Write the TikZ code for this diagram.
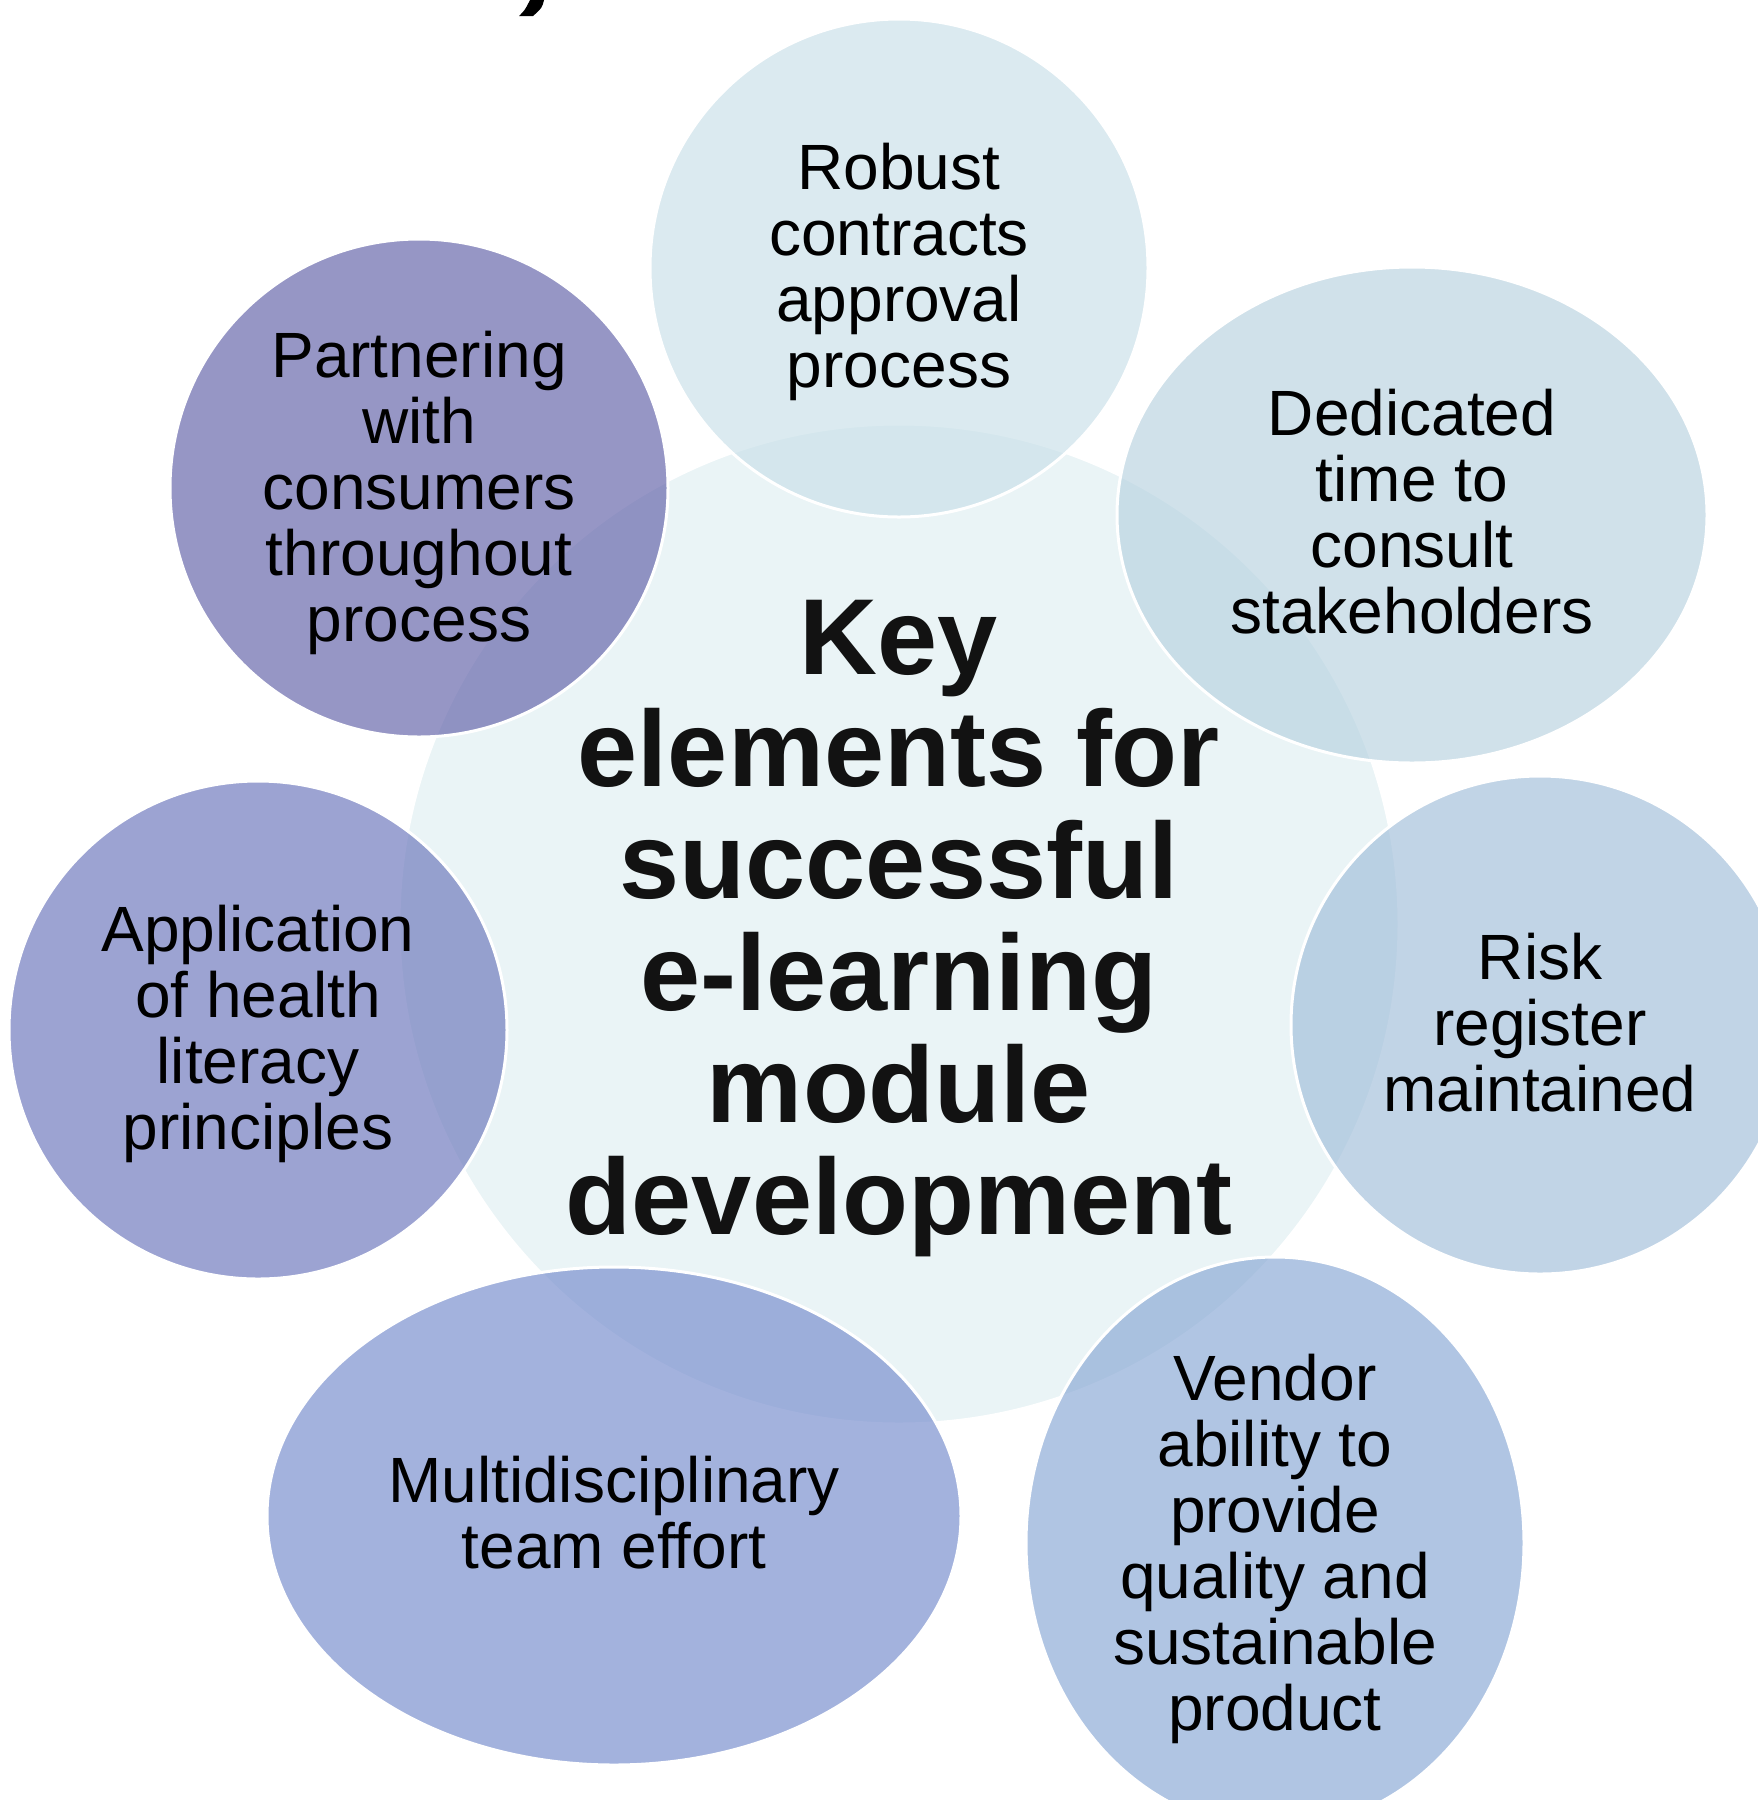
\documentclass[tikz,border=0pt]{standalone}
\usepackage{fontspec}
\setmainfont{Liberation Sans}
\usetikzlibrary{shapes.geometric}
\definecolor{cCenter}{RGB}{234,244,246}
\definecolor{cRobust}{RGB}{201,224,233}
\definecolor{cDedic}{RGB}{183,210,224}
\definecolor{cRisk}{RGB}{160,189,217}
\definecolor{cVendor}{RGB}{135,166,212}
\definecolor{cMulti}{RGB}{115,137,204}
\definecolor{cAppl}{RGB}{104,115,186}
\definecolor{cPartner}{RGB}{95,94,167}
\begin{document}
\begin{tikzpicture}[x=1pt,y=-1pt,
  bubble/.style={ellipse, draw=white, line width=3pt, fill opacity=0.65, draw opacity=1, inner sep=0pt, outer sep=0pt},
  otext/.style={align=center, font=\fontsize{64}{66}\selectfont, text=black, inner sep=0pt},
  ctext/.style={align=center, font=\fontsize{108}{112}\selectfont\bfseries, text=black!93, inner sep=0pt}]
\useasboundingbox (0,0) rectangle (1758,1800);
\fill[white] (0,0) rectangle (1758,1800);
\begin{scope}
\clip (0,0) rectangle (1758,1800);
% fragment of the cut-off title
\fill[black] (530,0) -- (544,0) .. controls (542,8) .. (533,16) -- (519,16) .. controls (525,10) .. (530,0) -- cycle;
% central circle
\node[circle, fill=cCenter, draw=white, line width=3pt, minimum size=1000pt, inner sep=0pt] (center) at (899,924) {};
% outer bubbles
\node[bubble, fill=cRobust, minimum width=498pt, minimum height=498pt] (robust) at (899,268) {};
\node[bubble, fill=cDedic, minimum width=590pt, minimum height=496pt] (dedic) at (1412,515) {};
\node[bubble, fill=cRisk, minimum width=498pt, minimum height=498pt] (risk) at (1540,1025) {};
\node[bubble, fill=cVendor, minimum width=498pt, minimum height=572pt] (vendor) at (1275,1543) {};
\node[bubble, fill=cMulti, minimum width=694pt, minimum height=498pt] (multi) at (614,1516) {};
\node[bubble, fill=cAppl, minimum width=498pt, minimum height=498pt] (appl) at (258,1030) {};
\node[bubble, fill=cPartner, minimum width=498pt, minimum height=498pt] (partner) at (419,488) {};
\end{scope}
% texts
\node[ctext] (centerT) at (899,929) {Key\\elements for\\successful\\e-learning\\module\\development};
\node[otext] (robustT) at (899,272) {Robust\\contracts\\approval\\process};
\node[otext] (dedicT) at (1412,512) {Dedicated\\time to\\consult\\stakeholders};
\node[otext] (riskT) at (1540,1023) {Risk\\register\\maintained};
\node[otext] (vendorT) at (1275,1549) {Vendor\\ability to\\provide\\quality and\\sustainable\\product};
\node[otext] (multiT) at (614,1513) {Multidisciplinary\\team effort};
\node[otext] (applT) at (258,1034) {Application\\of health\\literacy\\principles};
\node[otext] (partnerT) at (419,493) {Partnering\\with\\consumers\\throughout\\process};
\end{tikzpicture}
\end{document}
